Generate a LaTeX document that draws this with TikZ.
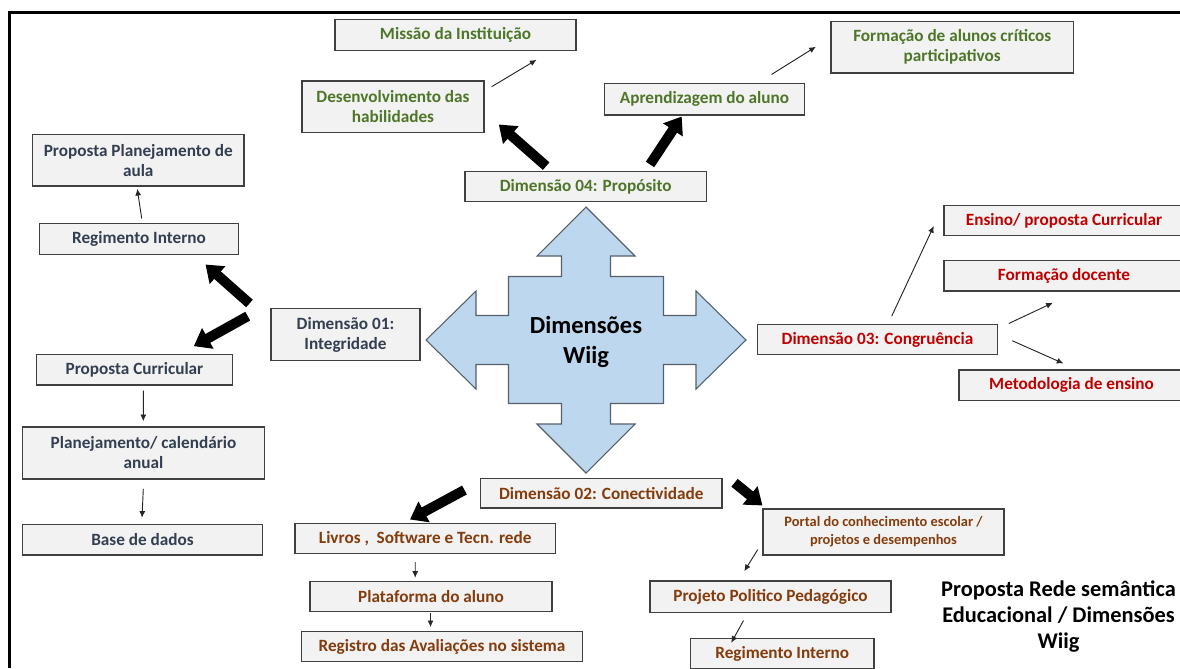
\documentclass[tikz,border=0pt]{standalone}
\usepackage{fontspec}
\setmainfont{Carlito}
\usetikzlibrary{arrows.meta,calc}
\definecolor{boxfill}{HTML}{F2F2F2}
\definecolor{boxdraw}{HTML}{404040}
\definecolor{grn}{RGB}{78,118,40}
\definecolor{slate}{HTML}{333F50}
\definecolor{redt}{HTML}{C00000}
\definecolor{brn}{HTML}{843C0C}
\definecolor{crossfill}{HTML}{BDD7EE}
\definecolor{crossdraw}{HTML}{55606C}
\newcommand{\wbox}[7]{%
  \node[box,#6,minimum width={(#4-#2)*0.75pt},minimum height={(#5-#3)*0.75pt}] (#1) at ({(#2+#4)/2},{(#3+#5)/2}) {#7};}
\tikzset{
  box/.style={draw=boxdraw,fill=boxfill,line width=0.8pt,inner sep=0pt,align=center,
    font=\bfseries\fontsize{12.9}{15}\selectfont},
  gtxt/.style={text=grn},
  stxt/.style={text=slate},
  rtxt/.style={text=redt},
  btxt/.style={text=brn},
  thinarr/.style={draw=black!85,line width=0.7pt,-{Latex[length=5pt,width=4.5pt]}},
  bigarr/.style={draw=black,line width=7.5pt,-{Triangle[length=12pt,width=17pt]}}
}
\begin{document}
\begin{tikzpicture}[x=0.75pt,y=-0.75pt]
\useasboundingbox (0,0) rectangle (1180,668);
% frame
\draw[line width=2.2pt] (9.5,668) -- (9.5,12.5) -- (1180,12.5);
% central cross
\begin{scope}[shift={(586,340)}]
\draw[fill=crossfill,draw=crossdraw,line width=0.8pt]
 (0,-133) -- (49,-84) -- (24.5,-84) -- (24.5,-63.5) -- (77.5,-63.5) -- (77.5,-24.5) -- (110,-24.5) -- (110,-49) -- (160,0) -- (110,49) -- (110,24.5) -- (77.5,24.5) -- (77.5,63.5) -- (24.5,63.5) -- (24.5,84) -- (49,84) -- (0,133) -- (-49,84) -- (-24.5,84) -- (-24.5,63.5) -- (-77.5,63.5) -- (-77.5,24.5) -- (-110,24.5) -- (-110,49) -- (-160,0) -- (-110,-49) -- (-110,-24.5) -- (-77.5,-24.5) -- (-77.5,-63.5) -- (-24.5,-63.5) -- (-24.5,-84) -- (-49,-84) -- cycle;
\end{scope}
\node[align=center,font=\bfseries\fontsize{18.4}{22.5}\selectfont] (wiig) at (586,341.5) {Dimensões\\Wiig};
% boxes - top (green)
\wbox{mis}{335}{19.5}{576}{50.5}{gtxt}{Missão da Instituição}
\wbox{dev}{302}{81}{484}{132.5}{gtxt}{Desenvolvimento das\\habilidades}
\wbox{apr}{604.5}{83.5}{804.5}{115}{gtxt}{Aprendizagem do aluno}
\wbox{for}{831}{21.5}{1073.5}{73}{gtxt}{Formação de alunos críticos\\participativos}
\wbox{d4}{465}{171.5}{706.5}{201.5}{gtxt}{Dimensão 04: Propósito}
% left (slate)
\wbox{ppa}{32.5}{134.5}{244}{186}{stxt}{Proposta Planejamento de\\aula}
\wbox{regL}{39.5}{223.5}{238.5}{254.5}{stxt}{Regimento Interno}
\wbox{d1}{271}{308.5}{420}{360.5}{stxt}{Dimensão 01:\\Integridade}
\wbox{pc}{36.5}{354.5}{232.5}{385}{stxt}{Proposta Curricular}
\wbox{plan}{22.5}{427}{264.5}{479}{stxt}{Planejamento/ calendário\\anual}
\wbox{base}{22.5}{524.5}{262.5}{555}{stxt}{Base de dados}
% right (red)
\wbox{d3}{757.5}{324.5}{997.5}{354.5}{rtxt}{Dimensão 03: Congruência}
\wbox{ens}{944}{205.5}{1184}{235.5}{rtxt}{Ensino/ proposta Curricular}
\wbox{fdo}{944}{260.5}{1184}{291}{rtxt}{Formação docente}
\wbox{met}{959}{370}{1184}{400.5}{rtxt}{Metodologia de ensino}
% bottom (brown)
\wbox{d2}{480.5}{478.5}{722}{508}{btxt}{Dimensão 02: Conectividade}
\wbox{liv}{295}{523.5}{555.5}{553.5}{btxt}{Livros ,\ \ Software e Tecn. rede}
\wbox{pla}{310}{581.5}{552}{611.5}{btxt}{Plataforma do aluno}
\wbox{rega}{301.5}{631.5}{582.5}{661.5}{btxt}{Registro das Avaliações no sistema}
\wbox{por}{763}{509}{1004}{555}{btxt,font=\bfseries\fontsize{10.8}{13.5}\selectfont}{Portal do conhecimento escolar /\\projetos e desempenhos}
\wbox{ppp}{650}{581}{891}{612.5}{btxt}{Projeto Politico Pedagógico}
\wbox{regB}{690.5}{638.5}{874}{669}{btxt}{Regimento Interno}
% title
\node[align=center,font=\bfseries\fontsize{16.8}{19.5}\selectfont] (title) at (1058.5,617) {Proposta Rede semântica\\Educacional / Dimensões\\Wiig};
% thick arrows
\draw[bigarr] ($(d4.north west)+(81.7,-4.8)$) -- ($(dev.south east)+(14.3,-8.5)$);
\draw[bigarr] ($(d4.north)+(64.25,-6.5)$) -- ($(apr.south)+(-22.8,1)$);
\draw[bigarr] ($(d1.north west)+(-21,-4.5)$) -- ($(regL.south east)+(-33.5,9.5)$);
\draw[bigarr] ($(d1.north west)+(-22.7,8.2)$) -- ($(pc.north east)+(-39.2,-7.8)$);
\draw[bigarr] ($(d2.west)+(-15.5,-3.25)$) -- ($(liv.north)+(-15.25,-3.5)$);
\draw[bigarr] ($(d2.north east)+(12,4.8)$) -- ($(por.north west)+(0,-3)$);
% thin arrows
\draw[thinarr] ($(dev.north east)+(7,6.3)$) -- ($(mis.south east)+(-40,8.8)$);
\draw[thinarr] ($(apr.north east)+(-33.5,-8.5)$) -- ($(for.west)+(-14.6,-0.5)$);
\draw[thinarr] ($(regL.north)+(2.7,-4.5)$) -- ($(ppa.south)+(-1,2.3)$);
\draw[thinarr] ($(pc.south)+(8.8,5)$) -- ($(plan.north)+(-0.2,-5.3)$);
\draw[thinarr] ($(plan.south)+(-0.2,9.3)$) -- ($(base.north)+(-0.5,-6.2)$);
\draw[thinarr] ($(d3.north)+(14.2,-7.8)$) -- ($(ens.west)+(-9.7,5.5)$);
\draw[thinarr] ($(d3.north east)+(10.8,-0.5)$) -- ($(fdo.south west)+(109.3,11.3)$);
\draw[thinarr] ($(d3.east)+(14.2,1.2)$) -- ($(met.north west)+(105,-6)$);
\draw[thinarr] ($(liv.south)+(-10,8.2)$) -- ($(pla.north)+(-15.8,-3.2)$);
\draw[thinarr] ($(pla.south)+(-0.5,1.2)$) -- ($(rega.north)+(-11.5,-3.8)$);
\draw[thinarr] ($(por.south west)+(-4.7,-6)$) -- ($(ppp.north)+(-26.2,-9.3)$);
\draw[thinarr] ($(ppp.south)+(-27,7.5)$) -- ($(regB.north)+(-51,4.8)$);
\end{tikzpicture}
\end{document}
